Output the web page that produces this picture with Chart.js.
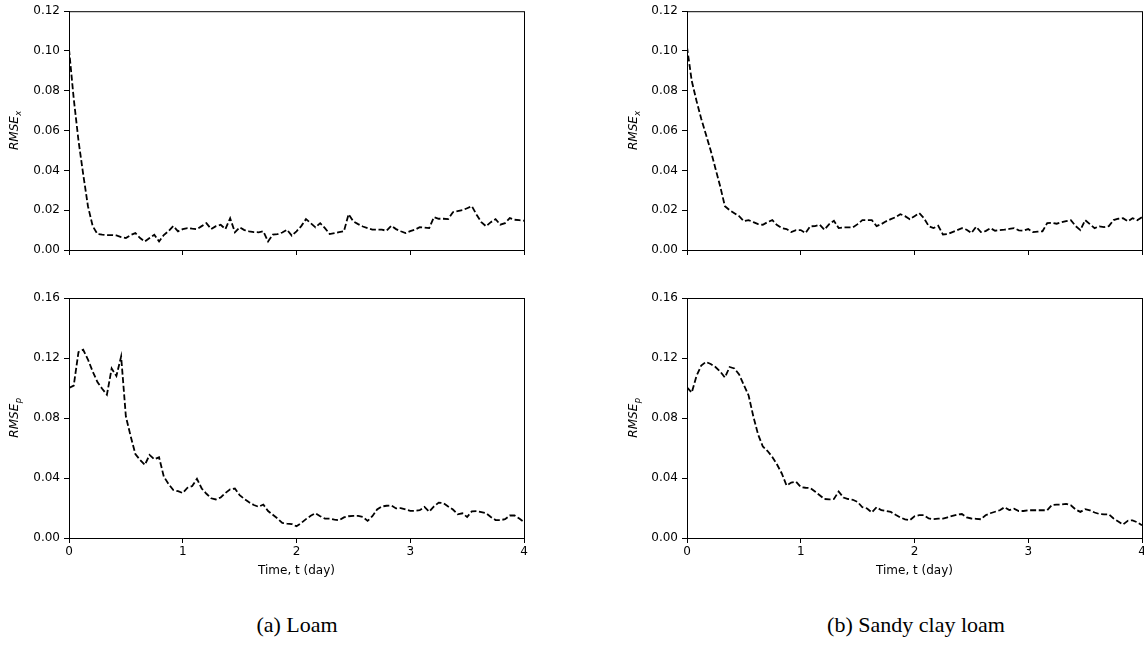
<!DOCTYPE html>
<html>
<head>
<meta charset="utf-8">
<script src="https://cdn.jsdelivr.net/npm/chart.js@4.4.0/dist/chart.umd.min.js"></script>
<style>
  body { margin: 0; background: #fff; width: 1144px; height: 662px; position: relative; overflow: hidden; }
  .panel { position: absolute; }
  .caption { position: absolute; top: 613px; line-height: 24px; font-family: 'Liberation Serif', 'DejaVu Serif', serif; font-size: 22px; color: #000; transform: translateX(-50%); white-space: nowrap; }
</style>
</head>
<body>
<div class="panel" style="left:0;top:0"><canvas id="loamX" width="560" height="270"></canvas></div>
<div class="panel" style="left:0;top:270px"><canvas id="loamP" width="560" height="310"></canvas></div>
<div class="panel" style="left:570px;top:0"><canvas id="sandyX" width="600" height="270"></canvas></div>
<div class="panel" style="left:570px;top:270px"><canvas id="sandyP" width="600" height="310"></canvas></div>
<div class="caption" style="left:297px">(a) Loam</div>
<div class="caption" style="left:916px">(b) Sandy clay loam</div>
<script>
// time in hours (hourly output over 4 days)
const hours = [
  0, 1, 2, 3, 4, 5, 6, 7, 8, 9, 10, 11, 12, 13, 14, 15, 16, 17, 18, 19,
  20, 21, 22, 23, 24, 25, 26, 27, 28, 29, 30, 31, 32, 33, 34, 35, 36, 37, 38, 39,
  40, 41, 42, 43, 44, 45, 46, 47, 48, 49, 50, 51, 52, 53, 54, 55, 56, 57, 58, 59,
  60, 61, 62, 63, 64, 65, 66, 67, 68, 69, 70, 71, 72, 73, 74, 75, 76, 77, 78, 79,
  80, 81, 82, 83, 84, 85, 86, 87, 88, 89, 90, 91, 92, 93, 94, 95, 96
];

// Loam
const loamRmseX = [
  0.101, 0.076, 0.055, 0.038, 0.022, 0.012, 0.008, 0.0077, 0.0075, 0.0075,
  0.0073, 0.0065, 0.006, 0.0075, 0.0085, 0.006, 0.0043, 0.006, 0.0077, 0.0043,
  0.0075, 0.0095, 0.012, 0.0094, 0.0105, 0.011, 0.0107, 0.0105, 0.012, 0.0135,
  0.0105, 0.012, 0.0127, 0.0105, 0.016, 0.0089, 0.0114, 0.010, 0.0094, 0.009,
  0.0089, 0.0094, 0.0043, 0.0077, 0.008, 0.0088, 0.0102, 0.0072, 0.0094, 0.012,
  0.0155, 0.0135, 0.0114, 0.0135, 0.011, 0.008, 0.0085, 0.009, 0.0094, 0.018,
  0.0144, 0.013, 0.0118, 0.011, 0.0102, 0.0102, 0.0102, 0.0097, 0.0122, 0.0105,
  0.0094, 0.0085, 0.0095, 0.0102, 0.0115, 0.0113, 0.011, 0.0165, 0.0157, 0.0157,
  0.0155, 0.019, 0.0195, 0.020, 0.021, 0.022, 0.0177, 0.014, 0.0119, 0.014,
  0.0155, 0.0127, 0.0135, 0.016, 0.0152, 0.015, 0.0147
];
const loamRmseP = [
  0.100, 0.1016, 0.124, 0.1255, 0.119, 0.111, 0.104, 0.0995, 0.0955, 0.113,
  0.108, 0.121, 0.081, 0.068, 0.056, 0.052, 0.0487, 0.0554, 0.0525, 0.0538,
  0.041, 0.036, 0.032, 0.0312, 0.030, 0.0335, 0.0346, 0.0395, 0.033, 0.0295,
  0.0265, 0.0257, 0.027, 0.030, 0.0325, 0.033, 0.0286, 0.026, 0.0238, 0.022,
  0.0208, 0.0223, 0.018, 0.0155, 0.013, 0.010, 0.0096, 0.0093, 0.0078, 0.010,
  0.0126, 0.0148, 0.0165, 0.0145, 0.0129, 0.0129, 0.0122, 0.0118, 0.0137, 0.0145,
  0.0147, 0.0147, 0.014, 0.0114, 0.0145, 0.019, 0.021, 0.0215, 0.0217, 0.0197,
  0.0199, 0.019, 0.0181, 0.0181, 0.0185, 0.0207, 0.0175, 0.021, 0.0236, 0.0232,
  0.021, 0.019, 0.0158, 0.0165, 0.014, 0.0178, 0.0179, 0.0172, 0.0165, 0.014,
  0.012, 0.0119, 0.0125, 0.015, 0.015, 0.013, 0.0107
];

// Sandy clay loam
const sandyRmseX = [
  0.102, 0.085, 0.075, 0.066, 0.058, 0.050, 0.041, 0.032, 0.022, 0.020,
  0.0185, 0.017, 0.0145, 0.015, 0.014, 0.013, 0.0127, 0.014, 0.015, 0.0125,
  0.011, 0.0105, 0.009, 0.010, 0.010, 0.0085, 0.0119, 0.012, 0.0127, 0.0102,
  0.013, 0.0147, 0.011, 0.0114, 0.0114, 0.0114, 0.013, 0.015, 0.015, 0.015,
  0.012, 0.013, 0.0144, 0.0155, 0.0165, 0.018, 0.017, 0.0155, 0.017, 0.0185,
  0.016, 0.012, 0.011, 0.0122, 0.0078, 0.008, 0.009, 0.010, 0.011, 0.0102,
  0.0085, 0.0117, 0.009, 0.0095, 0.011, 0.0097, 0.010, 0.0102, 0.0106, 0.011,
  0.0099, 0.0097, 0.0105, 0.009, 0.0092, 0.0094, 0.0135, 0.0137, 0.0132, 0.0139,
  0.0145, 0.015, 0.012, 0.010, 0.015, 0.013, 0.011, 0.0119, 0.0115, 0.012,
  0.015, 0.0157, 0.016, 0.0144, 0.016, 0.015, 0.0165
];
const sandyRmseP = [
  0.1004, 0.097, 0.108, 0.115, 0.1174, 0.116, 0.114, 0.111, 0.107, 0.114,
  0.113, 0.109, 0.102, 0.095, 0.081, 0.069, 0.061, 0.058, 0.054, 0.049,
  0.043, 0.035, 0.037, 0.0375, 0.034, 0.0335, 0.0333, 0.031, 0.0285, 0.026,
  0.0257, 0.026, 0.031, 0.027, 0.026, 0.0255, 0.024, 0.0205, 0.0197, 0.017,
  0.0205, 0.0185, 0.018, 0.0174, 0.0155, 0.0137, 0.0124, 0.0118, 0.0145, 0.0152,
  0.0152, 0.013, 0.0126, 0.0129, 0.0129, 0.0138, 0.0147, 0.0155, 0.016, 0.0137,
  0.013, 0.0128, 0.0125, 0.0152, 0.0165, 0.0175, 0.0185, 0.0205, 0.0186, 0.0196,
  0.018, 0.018, 0.0185, 0.0185, 0.0185, 0.0185, 0.0185, 0.022, 0.0223, 0.0223,
  0.0228, 0.0218, 0.019, 0.0174, 0.0192, 0.0185, 0.017, 0.016, 0.0158, 0.0158,
  0.013, 0.011, 0.009, 0.0115, 0.0118, 0.0105, 0.0085
];

// axis ticks
const dayTicks = [0, 1, 2, 3, 4];
const rmseXTicks = [0, 0.02, 0.04, 0.06, 0.08, 0.10, 0.12];
const rmsePTicks = [0, 0.04, 0.08, 0.12, 0.16];

const tickFont = { family: 'DejaVu Sans', size: 12 };

// frame round the plot area (matplotlib style box)
const framePlugin = {
  id: 'frame',
  afterDraw(chart) {
    const a = chart.chartArea;
    const ctx = chart.ctx;
    ctx.save();
    ctx.strokeStyle = '#000';
    ctx.lineWidth = 1;
    ctx.strokeRect(a.left + 0.5, a.top + 0.5, a.right - a.left, a.bottom - a.top);
    ctx.restore();
  }
};

// y axis title with italic subscript, e.g. RMSE_x
const yLabelPlugin = {
  id: 'ylab',
  afterDraw(chart, args, opts) {
    const ctx = chart.ctx;
    const a = chart.chartArea;
    ctx.save();
    ctx.translate(opts.x, (a.top + a.bottom) / 2);
    ctx.rotate(-Math.PI / 2);
    ctx.fillStyle = '#000';
    ctx.textBaseline = 'alphabetic';
    ctx.textAlign = 'left';
    ctx.font = 'italic 12px "DejaVu Sans"';
    const w1 = ctx.measureText('RMSE').width;
    ctx.font = 'italic 8.5px "DejaVu Sans"';
    const w2 = ctx.measureText(opts.sub).width;
    const start = -(w1 + w2) / 2;
    ctx.font = 'italic 12px "DejaVu Sans"';
    ctx.fillText('RMSE', start, 4);
    ctx.font = 'italic 8.5px "DejaVu Sans"';
    ctx.fillText(opts.sub, start + w1 + 0.5, 6.5);
    ctx.restore();
  }
};

function makeChart(id, values, yMax, yTicks, sub, bottom, padLeft, labelX) {
  const ctx = document.getElementById(id).getContext('2d');
  return new Chart(ctx, {
    type: 'line',
    data: {
      labels: hours,
      datasets: [{
        data: hours.map((h, i) => ({ x: h / 24, y: values[i] })),
        borderColor: '#000',
        borderWidth: 1.8,
        borderDash: [6, 2.6],
        pointRadius: 0,
        fill: false,
        tension: 0
      }]
    },
    options: {
      responsive: false,
      animation: false,
      events: [],
      layout: {
        padding: bottom
          ? { left: padLeft, top: 28, right: padLeft ? 28 : 36, bottom: 2 }
          : { left: padLeft, top: 11, right: padLeft ? 28 : 36, bottom: 0 }
      },
      plugins: {
        legend: { display: false },
        tooltip: { enabled: false },
        ylab: { sub: sub, x: labelX }
      },
      scales: {
        x: {
          type: 'linear',
          min: 0,
          max: 4,
          afterBuildTicks: s => { s.ticks = dayTicks.map(v => ({ value: v })); },
          afterFit: s => { s.height = bottom ? 40 : 20; },
          border: { display: true, color: '#000', width: 1 },
          grid: { drawOnChartArea: false, drawTicks: true, tickLength: 5, color: '#000' },
          ticks: {
            display: bottom,
            color: '#000',
            font: tickFont,
            padding: 2,
            maxRotation: 0,
            callback: v => String(v)
          },
          title: {
            display: bottom,
            text: 'Time, t (day)',
            color: '#000',
            font: tickFont,
            padding: 0
          }
        },
        y: {
          min: 0,
          max: yMax,
          afterBuildTicks: s => { s.ticks = yTicks.map(v => ({ value: v })); },
          afterFit: s => { s.width = 69; },
          border: { display: true, color: '#000', width: 1 },
          grid: { drawOnChartArea: false, drawTicks: true, tickLength: 5, color: '#000' },
          ticks: {
            color: '#000',
            font: tickFont,
            padding: 4,
            callback: v => v.toFixed(2)
          }
        }
      }
    },
    plugins: [framePlugin, yLabelPlugin]
  });
}

makeChart('loamX', loamRmseX, 0.12, rmseXTicks, 'x', false, 0, 14);
makeChart('loamP', loamRmseP, 0.16, rmsePTicks, 'p', true, 0, 14);
makeChart('sandyX', sandyRmseX, 0.12, rmseXTicks, 'x', false, 48, 63);
makeChart('sandyP', sandyRmseP, 0.16, rmsePTicks, 'p', true, 48, 63);
</script>
</body>
</html>
